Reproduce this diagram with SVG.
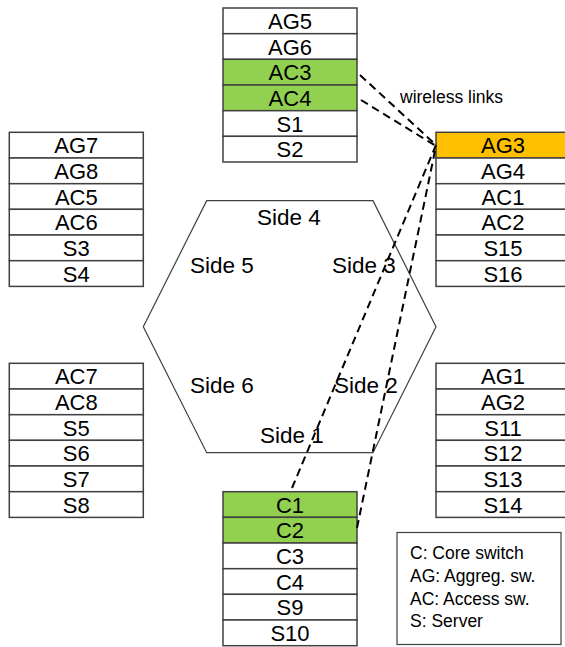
<svg xmlns="http://www.w3.org/2000/svg" width="565" height="647" viewBox="0 0 565 647">
<style>
.cell{fill:#ffffff;stroke:#404040;stroke-width:1.5}
.g{fill:#92D050}
.o{fill:#FFC000}
.lbl{font-family:"Liberation Sans",Arial,sans-serif;font-size:22px;fill:#000;text-anchor:middle}
.side{font-family:"Liberation Sans",Arial,sans-serif;font-size:22.5px;fill:#000}
.leg{font-family:"Liberation Sans",Arial,sans-serif;font-size:17.5px;fill:#000}
.link{fill:none;stroke:#000;stroke-width:2;stroke-dasharray:8,5}
</style>
<rect width="565" height="647" fill="#ffffff"/>

<g id="hexagon">
<polygon points="206.7,200.7 373,200.7 436,326.7 373,452.7 206.7,452.7 143.3,326.7" fill="#ffffff" stroke="#404040" stroke-width="1.2"/>
<text class="side" x="257" y="225">Side 4</text>
<text class="side" x="190" y="273">Side 5</text>
<text class="side" x="332" y="273">Side 3</text>
<text class="side" x="190" y="393">Side 6</text>
<text class="side" x="334" y="393">Side 2</text>
<text class="side" x="260" y="443">Side 1</text>
</g>

<g id="rack-top">
<rect class="cell" x="223" y="8" width="134" height="25.7"/>
<rect class="cell" x="223" y="33.7" width="134" height="25.7"/>
<rect class="cell g" x="223" y="59.3" width="134" height="25.7"/>
<rect class="cell g" x="223" y="85" width="134" height="25.7"/>
<rect class="cell" x="223" y="110.7" width="134" height="25.7"/>
<rect class="cell" x="223" y="136.3" width="134" height="25.7"/>
<text class="lbl" x="290" y="29">AG5</text>
<text class="lbl" x="290" y="54.7">AG6</text>
<text class="lbl" x="290" y="80.3">AC3</text>
<text class="lbl" x="290" y="106">AC4</text>
<text class="lbl" x="290" y="131.7">S1</text>
<text class="lbl" x="290" y="157.3">S2</text>
</g>

<g id="rack-left-top">
<rect class="cell" x="9.3" y="132.3" width="134" height="25.7"/>
<rect class="cell" x="9.3" y="158" width="134" height="25.7"/>
<rect class="cell" x="9.3" y="183.7" width="134" height="25.7"/>
<rect class="cell" x="9.3" y="209.3" width="134" height="25.7"/>
<rect class="cell" x="9.3" y="235" width="134" height="25.7"/>
<rect class="cell" x="9.3" y="260.7" width="134" height="25.7"/>
<text class="lbl" x="76.3" y="153.3">AG7</text>
<text class="lbl" x="76.3" y="179">AG8</text>
<text class="lbl" x="76.3" y="204.7">AC5</text>
<text class="lbl" x="76.3" y="230.3">AC6</text>
<text class="lbl" x="76.3" y="256">S3</text>
<text class="lbl" x="76.3" y="281.7">S4</text>
</g>

<g id="rack-right-top">
<rect class="cell o" x="436" y="132.3" width="134" height="25.7"/>
<rect class="cell" x="436" y="158" width="134" height="25.7"/>
<rect class="cell" x="436" y="183.7" width="134" height="25.7"/>
<rect class="cell" x="436" y="209.3" width="134" height="25.7"/>
<rect class="cell" x="436" y="235" width="134" height="25.7"/>
<rect class="cell" x="436" y="260.7" width="134" height="25.7"/>
<text class="lbl" x="503" y="153.3">AG3</text>
<text class="lbl" x="503" y="179">AG4</text>
<text class="lbl" x="503" y="204.7">AC1</text>
<text class="lbl" x="503" y="230.3">AC2</text>
<text class="lbl" x="503" y="256">S15</text>
<text class="lbl" x="503" y="281.7">S16</text>
</g>

<g id="rack-left-bottom">
<rect class="cell" x="9.3" y="363.3" width="134" height="25.7"/>
<rect class="cell" x="9.3" y="389" width="134" height="25.7"/>
<rect class="cell" x="9.3" y="414.7" width="134" height="25.7"/>
<rect class="cell" x="9.3" y="440.3" width="134" height="25.7"/>
<rect class="cell" x="9.3" y="466" width="134" height="25.7"/>
<rect class="cell" x="9.3" y="491.7" width="134" height="25.7"/>
<text class="lbl" x="76.3" y="384.3">AC7</text>
<text class="lbl" x="76.3" y="410">AC8</text>
<text class="lbl" x="76.3" y="435.7">S5</text>
<text class="lbl" x="76.3" y="461.3">S6</text>
<text class="lbl" x="76.3" y="487">S7</text>
<text class="lbl" x="76.3" y="512.7">S8</text>
</g>

<g id="rack-right-bottom">
<rect class="cell" x="436" y="363.3" width="134" height="25.7"/>
<rect class="cell" x="436" y="389" width="134" height="25.7"/>
<rect class="cell" x="436" y="414.7" width="134" height="25.7"/>
<rect class="cell" x="436" y="440.3" width="134" height="25.7"/>
<rect class="cell" x="436" y="466" width="134" height="25.7"/>
<rect class="cell" x="436" y="491.7" width="134" height="25.7"/>
<text class="lbl" x="503" y="384.3">AG1</text>
<text class="lbl" x="503" y="410">AG2</text>
<text class="lbl" x="503" y="435.7">S11</text>
<text class="lbl" x="503" y="461.3">S12</text>
<text class="lbl" x="503" y="487">S13</text>
<text class="lbl" x="503" y="512.7">S14</text>
</g>

<g id="rack-bottom">
<rect class="cell g" x="223" y="491.7" width="134" height="25.7"/>
<rect class="cell g" x="223" y="517.3" width="134" height="25.7"/>
<rect class="cell" x="223" y="543" width="134" height="25.7"/>
<rect class="cell" x="223" y="568.7" width="134" height="25.7"/>
<rect class="cell" x="223" y="594.3" width="134" height="25.7"/>
<rect class="cell" x="223" y="620" width="134" height="25.7"/>
<text class="lbl" x="290" y="512.7">C1</text>
<text class="lbl" x="290" y="538.3">C2</text>
<text class="lbl" x="290" y="564">C3</text>
<text class="lbl" x="290" y="589.7">C4</text>
<text class="lbl" x="290" y="615.3">S9</text>
<text class="lbl" x="290" y="641">S10</text>
</g>

<g id="connectors">
<line class="link" x1="360" y1="75" x2="436" y2="145"/>
<line class="link" x1="361" y1="100" x2="436" y2="146"/>
<line class="link" x1="292" y1="488" x2="436" y2="145"/>
<line class="link" x1="357" y1="528" x2="436" y2="146"/>
<text class="leg" x="400" y="103" font-size="18.5">wireless links</text>
</g>

<g id="legend">
<rect x="397" y="532.5" width="164" height="112" fill="#ffffff" stroke="#404040" stroke-width="1.2"/>
<text class="leg" x="410" y="559">C: Core switch</text>
<text class="leg" x="410" y="582">AG: Aggreg. sw.</text>
<text class="leg" x="410" y="604.5">AC: Access sw.</text>
<text class="leg" x="410" y="627">S: Server</text>
</g>
</svg>
